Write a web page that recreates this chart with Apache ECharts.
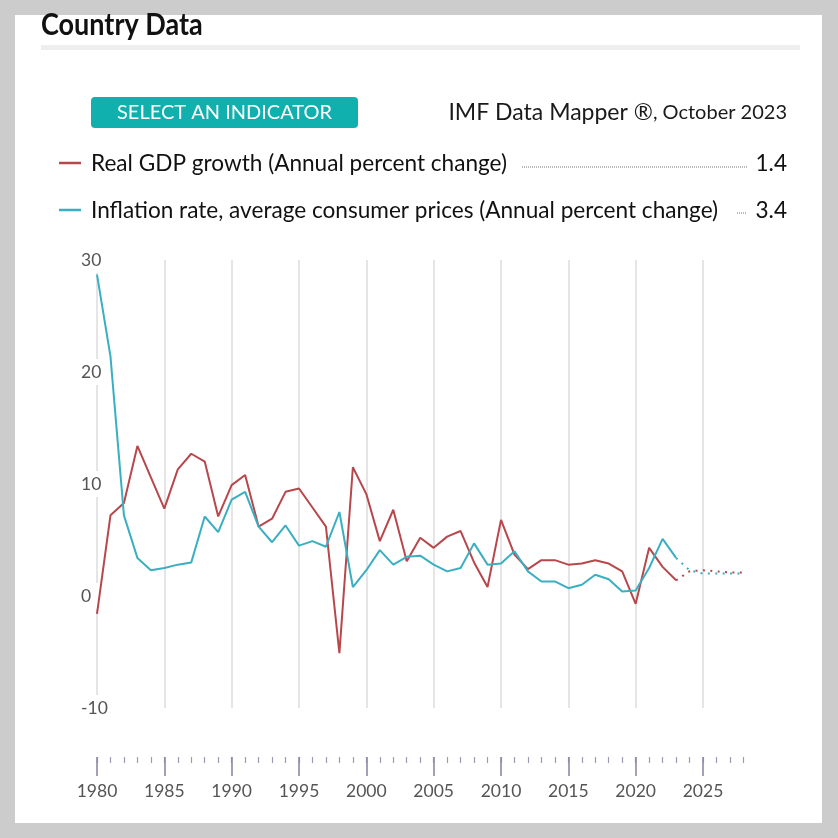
<!DOCTYPE html>
<html><head><meta charset="utf-8">
<script src="https://cdn.jsdelivr.net/npm/echarts@6/dist/echarts.min.js"></script>
<style>
html,body{margin:0;padding:0;background:#cccccc;}
#panel{position:absolute;left:15px;top:15px;width:807px;height:808px;background:#ffffff;}
#chart{position:absolute;left:0;top:0;width:838px;height:838px;}
</style></head><body>
<div id="panel"></div><div id="chart"></div>
<script>
const years = ['1980','1981','1982','1983','1984','1985','1986','1987','1988','1989',
  '1990','1991','1992','1993','1994','1995','1996','1997','1998','1999',
  '2000','2001','2002','2003','2004','2005','2006','2007','2008','2009',
  '2010','2011','2012','2013','2014','2015','2016','2017','2018','2019',
  '2020','2021','2022','2023','2024','2025','2026','2027','2028'];
const gdpGrowth = [-1.6,7.2,8.3,13.4,10.6,7.8,11.3,12.7,12.0,7.1,
  9.9,10.8,6.2,6.9,9.3,9.6,7.9,6.2,-5.1,11.5,
  9.1,4.9,7.7,3.1,5.2,4.3,5.3,5.8,3.0,0.8,
  6.8,3.7,2.4,3.2,3.2,2.8,2.9,3.2,2.9,2.2,
  -0.7,4.3,2.6,1.4,2.2,2.3,2.2,2.1,2.1];
const inflation = [28.7,21.4,7.2,3.4,2.3,2.5,2.8,3.0,7.1,5.7,
  8.6,9.3,6.2,4.8,6.3,4.5,4.9,4.4,7.5,0.8,
  2.3,4.1,2.8,3.5,3.6,2.8,2.2,2.5,4.7,2.8,
  2.9,4.0,2.2,1.3,1.3,0.7,1.0,1.9,1.5,0.4,
  0.5,2.5,5.1,3.4,2.3,2.0,2.0,2.0,2.0];
const lastActualYear = '2023';
const yMin = -10, yMax = 30, yStep = 10;
const labelStep = 5;
const gdpName = 'Real GDP growth (Annual percent change)';
const inflationName = 'Inflation rate, average consumer prices (Annual percent change)';
const titleText = 'Country Data';
const buttonText = 'SELECT AN INDICATOR';
const sourceMain = 'IMF Data Mapper ®';
const sourceDate = ', October 2023';

const RED = '#b8474c';
const TEAL = '#3aafc2';
const cut = years.indexOf(lastActualYear);
const actualPart = arr => arr.map((v, i) => (i <= cut ? v : null));
const projPart = arr => arr.map((v, i) => (i >= cut ? v : null));
const isMajor = (i, v) => Number(v) % labelStep === 0;

const chart = echarts.init(document.getElementById('chart'), null, {renderer: 'canvas'});
const FONT = 'Lato, "Open Sans", sans-serif';
const dotted = [2, 5.4];

const option = {
  animation: false,
  backgroundColor: 'transparent',
  grid: [
    {left: 97, top: 260, width: 646.4, height: 448},
    {left: 97, top: 756, width: 646.4, height: 1}
  ],
  xAxis: [
    {gridIndex: 0, type: 'category', data: years, boundaryGap: false,
     axisLine: {show: false}, axisTick: {show: false}, axisLabel: {show: false},
     splitLine: {show: true, interval: isMajor, lineStyle: {color: '#dddddd', width: 1.5}}},
    {gridIndex: 1, type: 'category', data: years, boundaryGap: false, position: 'bottom',
     axisLine: {show: false}, axisLabel: {show: false}, splitLine: {show: false},
     axisTick: {show: true, interval: 0, length: 6, lineStyle: {color: '#9c9cb6', width: 1.2}}},
    {gridIndex: 1, type: 'category', data: years, boundaryGap: false, position: 'bottom',
     axisLine: {show: false}, splitLine: {show: false},
     axisTick: {show: true, interval: isMajor, length: 19, lineStyle: {color: '#8a8aa8', width: 1.6}},
     axisLabel: {show: true, interval: isMajor, margin: 25, fontSize: 17.5, color: '#555555', fontFamily: FONT}}
  ],
  yAxis: [
    {gridIndex: 0, type: 'value', min: yMin, max: yMax, interval: yStep, z: 3,
     axisLine: {show: false}, axisTick: {show: false}, splitLine: {show: false},
     axisLabel: {align: 'left', margin: 16, fontSize: 17.5, color: '#555555', fontFamily: FONT,
       backgroundColor: '#ffffff', padding: [5, 8, 3, 0]}},
    {gridIndex: 1, type: 'value', show: false}
  ],
  series: [
    {name: gdpName, type: 'line', xAxisIndex: 0, yAxisIndex: 0, data: actualPart(gdpGrowth),
     symbol: 'none', silent: true, lineStyle: {color: RED, width: 2}},
    {name: inflationName, type: 'line', xAxisIndex: 0, yAxisIndex: 0, data: actualPart(inflation),
     symbol: 'none', silent: true, lineStyle: {color: TEAL, width: 2}},
    {name: gdpName + ' (projection)', type: 'line', xAxisIndex: 0, yAxisIndex: 0, data: projPart(gdpGrowth),
     symbol: 'none', silent: true, lineStyle: {color: RED, width: 2, type: dotted, cap: 'butt'}},
    {name: inflationName + ' (projection)', type: 'line', xAxisIndex: 0, yAxisIndex: 0, data: projPart(inflation),
     symbol: 'none', silent: true, lineStyle: {color: TEAL, width: 2, type: dotted, cap: 'butt'}}
  ],
  graphic: [
    {type: 'text', x: 41, y: 25, scaleX: 0.9, style: {text: titleText, fill: '#111111', fontSize: 30, fontWeight: 'bold',
      fontFamily: FONT, verticalAlign: 'middle', textVerticalAlign: 'middle'}},
    {type: 'rect', shape: {x: 41, y: 45, width: 759, height: 5}, style: {fill: '#eeeeee'}},
    {type: 'rect', shape: {x: 91, y: 97, width: 267, height: 31, r: 4}, style: {fill: '#0fb0ae'}},
    {type: 'text', x: 224.5, y: 113, style: {text: buttonText, fill: '#ffffff', fontSize: 20, fontFamily: FONT,
      align: 'center', textAlign: 'center', verticalAlign: 'middle', textVerticalAlign: 'middle'}},
    {type: 'text', x: 787, y: 113, style: {text: '{a|' + sourceMain + '}{b|' + sourceDate + '}',
      align: 'right', textAlign: 'right', verticalAlign: 'middle', textVerticalAlign: 'middle',
      rich: {a: {fontSize: 23, fontFamily: FONT, fill: '#1a1a1a', color: '#1a1a1a'},
             b: {fontSize: 20, fontFamily: FONT, fill: '#1a1a1a', color: '#1a1a1a'}}}},
    {type: 'line', shape: {x1: 59, y1: 163, x2: 81, y2: 163}, style: {stroke: RED, lineWidth: 2.5}},
    {type: 'text', x: 91, y: 164, style: {text: gdpName, fill: '#111111', fontSize: 22.6, fontFamily: FONT,
      verticalAlign: 'middle', textVerticalAlign: 'middle'}},
    {type: 'line', shape: {x1: 522, y1: 167, x2: 748, y2: 167}, style: {stroke: '#777777', lineWidth: 1, lineDash: [1, 1]}},
    {type: 'text', x: 787, y: 164, style: {text: gdpGrowth[cut].toFixed(1), fill: '#111111', fontSize: 22.6, fontFamily: FONT,
      align: 'right', textAlign: 'right', verticalAlign: 'middle', textVerticalAlign: 'middle'}},
    {type: 'line', shape: {x1: 59, y1: 210, x2: 81, y2: 210}, style: {stroke: TEAL, lineWidth: 2.5}},
    {type: 'text', x: 91, y: 211, style: {text: inflationName, fill: '#111111', fontSize: 22.6, fontFamily: FONT,
      verticalAlign: 'middle', textVerticalAlign: 'middle'}},
    {type: 'line', shape: {x1: 737, y1: 213, x2: 747, y2: 213}, style: {stroke: '#777777', lineWidth: 1, lineDash: [1, 1]}},
    {type: 'text', x: 787, y: 211, style: {text: inflation[cut].toFixed(1), fill: '#111111', fontSize: 22.6, fontFamily: FONT,
      align: 'right', textAlign: 'right', verticalAlign: 'middle', textVerticalAlign: 'middle'}}
  ]
};
chart.setOption(option);
</script>
</body></html>
